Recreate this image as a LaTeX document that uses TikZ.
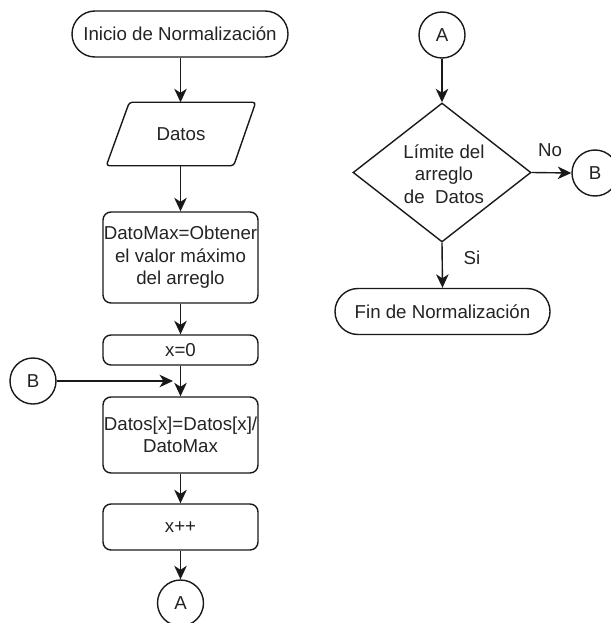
\documentclass[tikz,border=0pt]{standalone}
\usepackage{fontspec}
\setmainfont{Liberation Sans}
\usetikzlibrary{arrows.meta,calc,shapes.geometric}
\definecolor{ink}{RGB}{25,25,25}
\definecolor{txt}{RGB}{35,35,35}
\tikzset{
  base/.style={draw=ink, line width=1.4pt, text=txt, align=center, inner sep=0pt,
    font=\fontsize{18.7}{22.5}\selectfont},
  terminal/.style={base, rounded corners=23pt, minimum height=46pt},
  process/.style={base, rounded corners=8pt, minimum width=155pt},
  connector/.style={base, circle, minimum size=46pt},
  decision/.style={base, diamond, minimum width=178pt, minimum height=139pt, aspect=1.28},
  flow/.style={draw=ink, line width=1.4pt, -{Stealth[length=13.5pt,width=12.5pt,inset=4pt]}},
  lbl/.style={text=txt, font=\fontsize{18.7}{22.5}\selectfont, inner sep=0pt},
}
\begin{document}
\begin{tikzpicture}[x=1pt, y=-1pt]
  \useasboundingbox (0,0) rectangle (610,623);

  % left column: normalisation steps
  \node[terminal, minimum width=216pt] (inicio) at (180,34) {Inicio de Normalización};
  \node[base, draw=none, minimum width=148pt, minimum height=62pt] (datos) at (181,134) {Datos};
  \draw[ink, line width=1.4pt, rounded corners=3pt]
    (datos.south west) -- ($(datos.north west)+(23,0)$) -- (datos.north east)
    -- ($(datos.south east)+(-22,0)$) -- cycle;
  \node[process, minimum height=91pt] (datomax) at (180.5,257.5)
    {DatoMax=Obtener\\el valor máximo\\del arreglo};
  \node[process, minimum height=30pt] (xcero) at (180.5,350) {x=0};
  \node[process, minimum height=76pt] (divide) at (180.5,435)
    {Datos[x]=Datos[x]/\\DatoMax};
  \node[process, minimum height=46pt] (incr) at (180.5,527) {x++};
  \node[connector] (aout) at (180.5,603) {A};
  \node[connector] (bin) at (33,381) {B};
  \coordinate (join) at (180.5,381);

  \draw[flow] (inicio.south -| 180.5,0) -- (180.5,0 |- datos.north);
  \draw[flow] (180.5,0 |- datos.south) -- (datomax.north);
  \draw[flow] (datomax.south) -- (xcero.north);
  \draw[flow] (xcero.south) -- (divide.north);
  \draw[flow, shorten >=7.5pt] (bin.east) -- (join);
  \draw[flow] (divide.south) -- (incr.north);
  \draw[flow] (incr.south) -- (aout.north);

  % right column: loop test
  \node[connector] (ain) at (442,35) {A};
  \node[decision] (limite) at (442,172.5) {};
  \node[lbl, align=center] (limtxt) at (444,174) {Límite del\\arreglo\\de\ \ Datos};
  \node[connector] (bout) at (595,173) {B};
  \node[terminal, minimum width=215pt] (fin) at (442.5,311.5) {Fin de Normalización};

  \draw[flow] (ain.south) -- (limite.north);
  \draw[flow] (limite.east) -- (bout.west);
  \draw[flow] (limite.south) -- (fin.north);
  \node[lbl] (no) at (550,150) {No};
  \node[lbl] (si) at (472,258) {Si};
\end{tikzpicture}
\end{document}
